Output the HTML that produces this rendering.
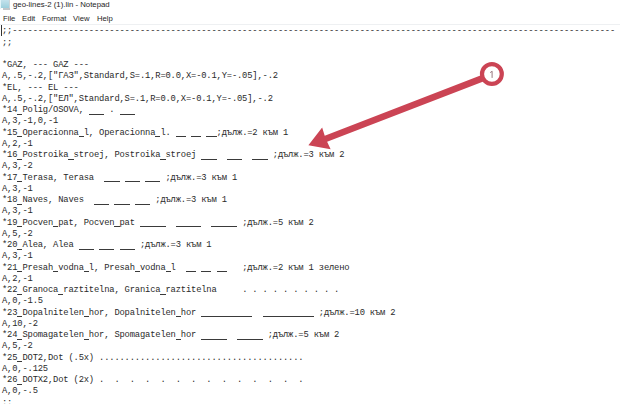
<!DOCTYPE html>
<html><head><meta charset="utf-8">
<style>
html,body{margin:0;padding:0;width:620px;height:404px;overflow:hidden;background:#fff;}
body{position:relative;}
#icon{position:absolute;left:0;top:0;width:10px;height:10px;}
#icon i{position:absolute;display:block;}
#title{position:absolute;left:13px;top:-1px;font-family:"Liberation Sans",sans-serif;font-size:7.8px;line-height:11px;color:#1e1e1e;white-space:nowrap;}
#menu{position:absolute;left:3px;top:13.5px;font-family:"Liberation Sans",sans-serif;font-size:7.7px;line-height:10px;color:#262626;white-space:nowrap;}
#menu span{position:absolute;top:0;}
#sep{position:absolute;left:0;top:23.5px;width:620px;height:1px;background:#eef0f2;}
#caret{position:absolute;left:1px;top:25px;width:1px;height:10.7px;background:#333;}
.l{position:absolute;left:2.0px;white-space:pre;font-family:"Liberation Mono",monospace;font-size:8.8px;letter-spacing:-0.17px;line-height:11.24px;color:#2a2a2a;}
.u{color:transparent;-webkit-text-stroke:0;background:linear-gradient(#3a3a3a,#3a3a3a) no-repeat;background-size:100% 1px;background-position:0 8.6px;}
svg{position:absolute;left:0;top:0;}
</style></head><body>
<div id="icon"><i style="left:0;top:0;width:1.3px;height:8.5px;background:#e2f4f8"></i><i style="left:1.3px;top:0;width:7.8px;height:8.2px;background:linear-gradient(#c4e2ec,#9ccfdc)"></i><i style="left:9.1px;top:0;width:0.8px;height:9.6px;background:#cdd5d8"></i><i style="left:3px;top:8.2px;width:6.9px;height:1.5px;background:#c2c7ca"></i></div>
<div id="title">geo-lines-2 (1).lin - Notepad</div>
<div id="menu"><span style="left:0">File</span><span style="left:19px">Edit</span><span style="left:39px">Format</span><span style="left:70px">View</span><span style="left:94px">Help</span></div>
<div id="sep"></div>
<div id="txt"><div class="l" style="top:26.250px">;;----------------------------------------------------------------------------------------------------------------------</div>
<div class="l" style="top:37.505px">;;</div>
<div class="l" style="top:48.760px"></div>
<div class="l" style="top:60.015px">*GAZ, --- GAZ ---</div>
<div class="l" style="top:71.270px">A,.5,-.2,[&quot;ГАЗ&quot;,Standard,S=.1,R=0.0,X=-0.1,Y=-.05],-.2</div>
<div class="l" style="top:82.525px">*EL, --- EL ---</div>
<div class="l" style="top:93.780px">A,.5,-.2,[&quot;ЕЛ&quot;,Standard,S=.1,R=0.0,X=-0.1,Y=-.05],-.2</div>
<div class="l" style="top:105.035px">*14<span class="u">_</span>Polig/OSOVA, <span class="u">___</span> . <span class="u">___</span></div>
<div class="l" style="top:116.290px">A,3,-1,0,-1</div>
<div class="l" style="top:127.545px">*15<span class="u">_</span>Operacionna<span class="u">_</span>l, Operacionna<span class="u">_</span>l. <span class="u">__</span> <span class="u">__</span> <span class="u">__</span>;дълж.=2 към 1</div>
<div class="l" style="top:138.800px">A,2,-1</div>
<div class="l" style="top:150.055px">*16<span class="u">_</span>Postroika<span class="u">_</span>stroej, Postroika<span class="u">_</span>stroej <span class="u">___</span>  <span class="u">___</span>  <span class="u">___</span> ;дълж.=3 към 2</div>
<div class="l" style="top:161.310px">A,3,-2</div>
<div class="l" style="top:172.565px">*17<span class="u">_</span>Terasa, Terasa  <span class="u">___</span> <span class="u">___</span> <span class="u">___</span> ;дълж.=3 към 1</div>
<div class="l" style="top:183.820px">A,3,-1</div>
<div class="l" style="top:195.075px">*18<span class="u">_</span>Naves, Naves  <span class="u">___</span> <span class="u">___</span> <span class="u">___</span> ;дълж.=3 към 1</div>
<div class="l" style="top:206.330px">A,3,-1</div>
<div class="l" style="top:217.585px">*19<span class="u">_</span>Pocven<span class="u">_</span>pat, Pocven<span class="u">_</span>pat <span class="u">_____</span>  <span class="u">_____</span>  <span class="u">_____</span> ;дълж.=5 към 2</div>
<div class="l" style="top:228.840px">A,5,-2</div>
<div class="l" style="top:240.095px">*20<span class="u">_</span>Alea, Alea <span class="u">___</span> <span class="u">___</span> <span class="u">___</span> ;дълж.=3 към 1</div>
<div class="l" style="top:251.350px">A,3,-1</div>
<div class="l" style="top:262.605px">*21<span class="u">_</span>Presah<span class="u">_</span>vodna<span class="u">_</span>l, Presah<span class="u">_</span>vodna<span class="u">_</span>l  <span class="u">__</span> <span class="u">__</span> <span class="u">__</span>   ;дълж.=2 към 1 зелено</div>
<div class="l" style="top:273.860px">A,2,-1</div>
<div class="l" style="top:285.115px">*22<span class="u">_</span>Granoca<span class="u">_</span>raztitelna, Granica<span class="u">_</span>raztitelna     . . . . . . . . . .</div>
<div class="l" style="top:296.370px">A,0,-1.5</div>
<div class="l" style="top:307.625px">*23<span class="u">_</span>Dopalnitelen<span class="u">_</span>hor, Dopalnitelen<span class="u">_</span>hor <span class="u">__________</span>  <span class="u">__________</span> ;дълж.=10 към 2</div>
<div class="l" style="top:318.880px">A,10,-2</div>
<div class="l" style="top:330.135px">*24<span class="u">_</span>Spomagatelen<span class="u">_</span>hor, Spomagatelen<span class="u">_</span>hor <span class="u">_____</span>  <span class="u">_____</span> ;дълж.=5 към 2</div>
<div class="l" style="top:341.390px">A,5,-2</div>
<div class="l" style="top:352.645px">*25<span class="u">_</span>DOT2,Dot (.5x) ........................................</div>
<div class="l" style="top:363.900px">A,0,-.125</div>
<div class="l" style="top:375.155px">*26<span class="u">_</span>DOTX2,Dot (2x) .  .  .  .  .  .  .  .  .  .  .  .  .  .</div>
<div class="l" style="top:386.410px">A,0,-.5</div>
<div class="l" style="top:397.665px">::</div></div>
<div id="caret"></div>
<svg width="620" height="404" viewBox="0 0 620 404">
<polygon points="308.40,145.30 322.15,127.40 324.73,135.72 490.70,71.62 493.10,77.78 327.12,141.87 330.63,149.22" fill="#cb4454"/>
<circle cx="491.9" cy="74" r="9.9" fill="#fff" stroke="#cb4454" stroke-width="4.2"/>
<path d="M492.1,71.2 V77.9 M492.1,71.3 L490.2,72.6" stroke="#927278" stroke-width="0.95" fill="none"/>
</svg>
</body></html>
